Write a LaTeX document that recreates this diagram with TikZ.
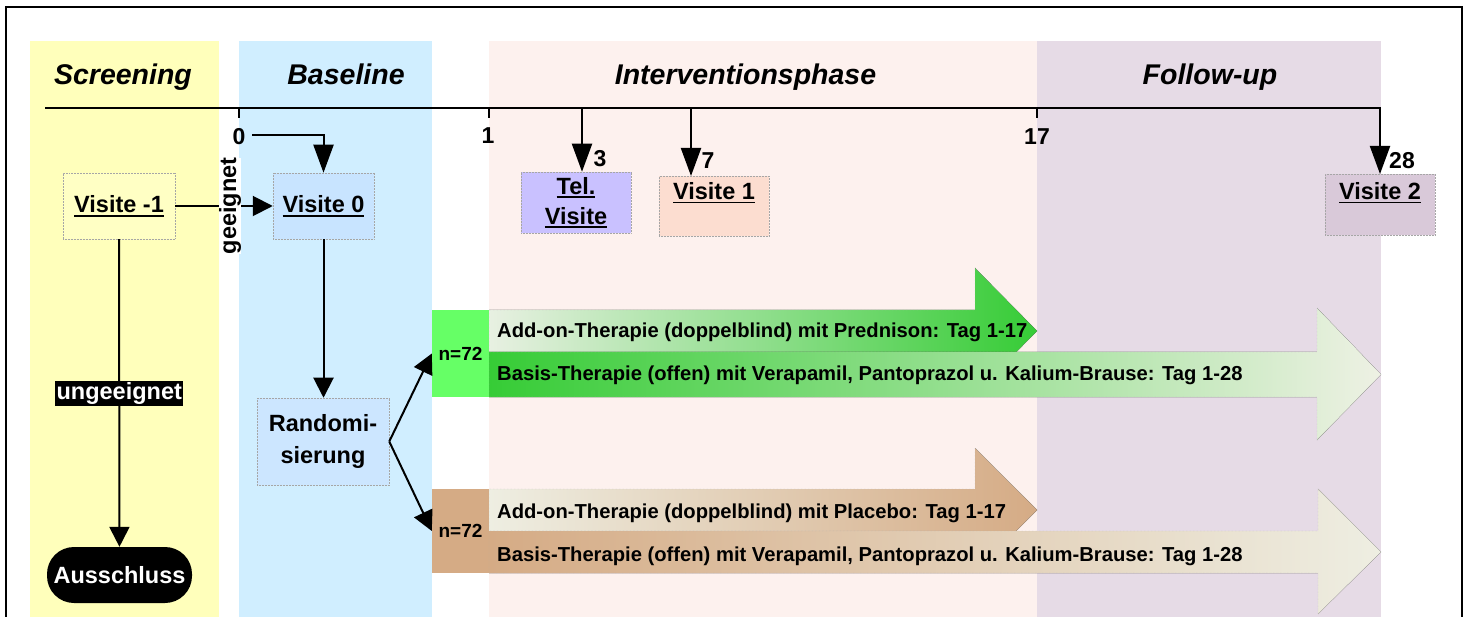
\documentclass[tikz,border=0pt]{standalone}
\usepackage{fontspec}
\setmainfont{Liberation Sans}
\usetikzlibrary{arrows.meta}
\newsavebox\ulbox
\newcommand{\ulx}[1]{\sbox\ulbox{#1}\rlap{\rule[-4pt]{\wd\ulbox}{1.6pt}}\usebox\ulbox}
\definecolor{yelband}{HTML}{FFFFBB}
\definecolor{blueband}{HTML}{D0EEFF}
\definecolor{intband}{HTML}{FDF1EE}
\definecolor{fuband}{HTML}{E6DBE6}
\definecolor{vmfill}{HTML}{FFFFC4}
\definecolor{vzfill}{HTML}{C8E4FF}
\definecolor{telfill}{HTML}{C9C1FF}
\definecolor{vofill}{HTML}{FCDDD0}
\definecolor{vtfill}{HTML}{D9C9D9}
\definecolor{randfill}{HTML}{CCE6FF}
\definecolor{ngreen}{HTML}{66FF66}
\definecolor{agreen}{HTML}{36CC36}
\definecolor{pgreen}{HTML}{E8F0E2}
\definecolor{pgreenb}{HTML}{EEF1E4}
\definecolor{brown}{HTML}{D5AB85}
\definecolor{pbrown}{HTML}{EEEEE2}
\begin{document}
\begin{tikzpicture}[x=1pt,y=-1pt,
  ln/.style={line width=2pt},
  arr/.style={ln,-{Triangle[length=20pt,width=20pt]}},
  bigarr/.style={ln,-{Triangle[length=28pt,width=20pt]}},
  vbox/.style={draw=gray!70,densely dotted,line width=0.5pt,inner sep=0pt},
  title/.style={font=\fontsize{28.5}{30}\selectfont\bfseries\itshape, anchor=base},
  tick/.style={font=\fontsize{23}{24}\selectfont\bfseries},
  lbl/.style={font=\fontsize{23.5}{30}\selectfont\bfseries},
  ntxt/.style={font=\fontsize{19}{20}\selectfont\bfseries},
  ther/.style={font=\fontsize{20.2}{22}\selectfont\bfseries, anchor=base west, inner sep=0pt},
  arrowshape/.style={draw=gray!60,densely dotted,line width=0.4pt},
]
\useasboundingbox (0,0) rectangle (1464,617);
% bands
\fill[yelband] (30,41) rectangle (219,617);
\fill[blueband] (239,41) rectangle (432,617);
\fill[intband] (489,41) rectangle (1037,617);
\fill[fuband] (1037,41) rectangle (1381,617);
% frame
\draw[line width=2.5pt] (6,617) -- (6,7) -- (1462,7) -- (1462,617);
% titles
\node[title] (tscr) at (123,85) {Screening};
\node[title] (tbas) at (346,85) {Baseline};
\node[title] (tint) at (745.5,85) {Interventionsphase};
\node[title] (tfu) at (1210,85) {Follow-up};
% nodes
\node[vbox, fill=vmfill, minimum width=112pt, minimum height=66pt, lbl] (vm1) at (119,206) {\ulx{Visite -1}};
\node[vbox, fill=vzfill, minimum width=101pt, minimum height=66pt, lbl] (v0) at (323.5,206) {\ulx{Visite 0}};
\node[vbox, fill=telfill, minimum width=110pt, minimum height=61pt, lbl, align=center] (tel) at (576,202.5) {\ulx{Tel.}\\\ulx{Visite}};
\node[vbox, fill=vofill, minimum width=110pt, anchor=north, lbl, inner ysep=6pt, text height=17pt, text depth=31pt] (v1) at (714,176) {\ulx{Visite 1}};
\node[vbox, fill=vtfill, minimum width=110pt, anchor=north, lbl, inner ysep=6pt, text height=19pt, text depth=30pt] (v2) at (1380,174) {\ulx{Visite 2}};
\node[vbox, fill=randfill, minimum width=132pt, minimum height=87pt, lbl, align=center, font=\fontsize{23.5}{32}\selectfont\bfseries] (rand) at (323,441.5) {Randomi-\\sierung};
\node[fill=black, text=white, rounded corners=27pt, minimum width=145pt, minimum height=56pt, inner sep=0pt, lbl] (aus) at (119.5,575) {Ausschluss};
% timeline
\coordinate (tl) at (45,108);
\coordinate (t0) at (239,108);
\coordinate (t1) at (489,108);
\coordinate (t3) at (582,108);
\coordinate (t7) at (691,108);
\coordinate (t17) at (1037,108);
\draw[ln] (t0) -- ++(0,10);
\draw[ln] (t1) -- ++(0,10);
\draw[ln] (t17) -- ++(0,10);
\draw[bigarr] (tl) -| (v2.north);
\draw[bigarr] (t3) -- (t3 |- tel.north);
\draw[bigarr] (t7) -- (t7 |- v1.north);
\node[tick] (l0) at (239,137) {0};
\node[tick] (l1) at (488,136) {1};
\node[tick] (l3) at (600,159) {3};
\node[tick] (l7) at (708,161) {7};
\node[tick] (l17) at (1037,137) {17};
\node[tick] (l28) at (1402,161) {28};
% connectors
\coordinate (g0) at (252,135);
\draw[bigarr] (g0) -| (v0.north);
\draw[arr] (vm1) -- (v0);
\node[fill=white, rotate=90, lbl, inner sep=0pt] (gee) at (230,206) {geeignet};
\draw[arr] (v0.south) -- (v0.south |- rand.north);
\draw[arr] (vm1) -- node[fill=black, text=white, lbl, inner sep=1.5pt] (ung) {ungeeignet} (aus);
% green group
\node[fill=ngreen, minimum width=57pt, minimum height=87pt, inner sep=0pt, ntxt] (ng) at (460.5,353.5) {n=72};
\filldraw[arrowshape, left color=pgreen, right color=agreen] (489,310) -- (975,310) -- (975,268) -- (1037,331) -- (975,394) -- (975,352) -- (489,352) -- cycle;
\filldraw[arrowshape, left color=agreen, right color=pgreenb] (489,352) -- (1317,352) -- (1317,308) -- (1381,374.5) -- (1317,440) -- (1317,397) -- (489,397) -- cycle;
\node[ther] (addg) at (497,338) {Add-on-Therapie (doppelblind) mit Prednison: Tag 1-17};
\node[ther] (basg) at (497,381) {Basis-Therapie (offen) mit Verapamil, Pantoprazol u. Kalium-Brause: Tag 1-28};
% brown group
\node[fill=brown, minimum width=57pt, minimum height=84pt, inner sep=0pt, ntxt] (nb) at (460.5,531) {n=72};
\filldraw[arrowshape, left color=pbrown, right color=brown] (489,489) -- (975,489) -- (975,448) -- (1037,510) -- (975,572) -- (975,531) -- (489,531) -- cycle;
\filldraw[arrowshape, left color=brown, right color=pbrown] (489,531) -- (1318,531) -- (1318,489) -- (1381,552) -- (1318,614) -- (1318,573) -- (489,573) -- cycle;
\node[ther] (addb) at (497,518) {Add-on-Therapie (doppelblind) mit Placebo: Tag 1-17};
\node[ther] (basb) at (497,561) {Basis-Therapie (offen) mit Verapamil, Pantoprazol u. Kalium-Brause: Tag 1-28};
% randomisation arrows
\draw[arr] (rand.east) -- (ng.west);
\draw[arr] (rand.east) -- (nb.west);
\end{tikzpicture}
\end{document}
